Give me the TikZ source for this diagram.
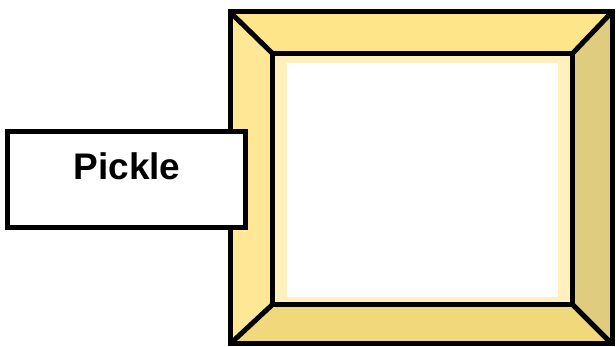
\documentclass[tikz,border=0pt]{standalone}
\usepackage{fontspec}
\setmainfont{Liberation Sans}
\definecolor{topc}{HTML}{FFE589}
\definecolor{leftc}{HTML}{FFE796}
\definecolor{botc}{HTML}{F0D87B}
\definecolor{rightc}{HTML}{DFCC7E}
\definecolor{palec}{HTML}{FFF0BE}
\begin{document}
\begin{tikzpicture}[x=1pt,y=-1pt,
  edge/.style={line width=5pt,line join=miter,black},
  labelbox/.style={draw,line width=5pt,fill=white,minimum width=238pt,minimum height=96pt,inner sep=0pt}]
\useasboundingbox (0,0) rectangle (616,347);
\coordinate (o1) at (230,12);
\coordinate (o2) at (612,12);
\coordinate (o3) at (612,344);
\coordinate (o4) at (230,344);
\coordinate (i1) at (272.5,53.5);
\coordinate (i2) at (572.5,53.5);
\coordinate (i3) at (572.5,304.5);
\coordinate (i4) at (272.5,304.5);
\fill[topc] (o1) -- (o2) -- (i2) -- (i1) -- cycle;
\fill[rightc] (o2) -- (o3) -- (i3) -- (i2) -- cycle;
\fill[botc] (o3) -- (o4) -- (i4) -- (i3) -- cycle;
\fill[leftc] (o4) -- (o1) -- (i1) -- (i4) -- cycle;
\fill[palec] (i1) rectangle (i3);
\fill[white] (287,63) rectangle (558,297);
\draw[edge] (o1) -- (o2) -- (o3) -- (o4) -- cycle;
\draw[edge] (i1) -- (i2) -- (i3) -- (i4) -- cycle;
\draw[edge] (o1) -- (i1);
\draw[edge] (o2) -- (i2);
\draw[edge] (o3) -- (i3);
\draw[edge] (o4) -- (i4);
\node[labelbox] (box) at (126.5,179.5) {};
\node[font=\fontsize{37}{40}\selectfont\bfseries,anchor=base] (lbl) at (127,180) {Pickle};
\end{tikzpicture}
\end{document}
